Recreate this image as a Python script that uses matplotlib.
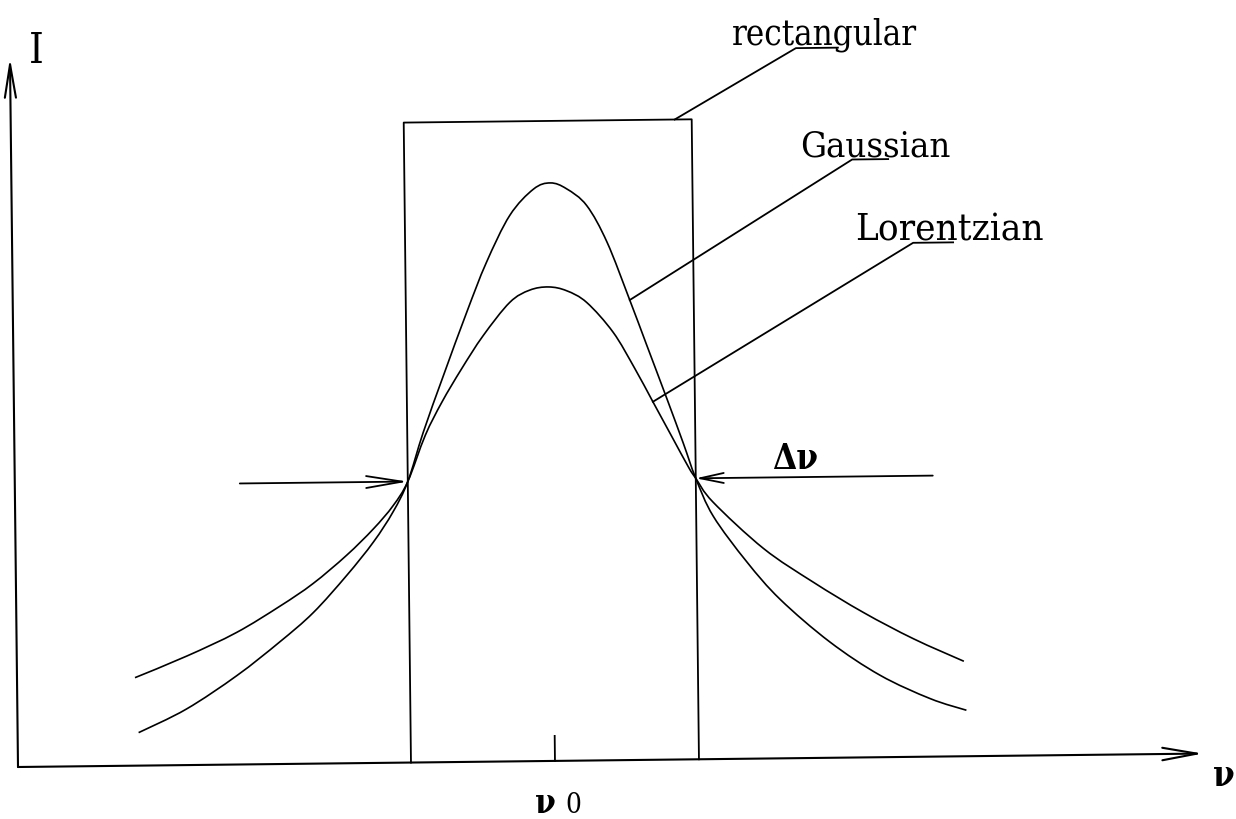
import matplotlib.pyplot as plt
from matplotlib.path import Path
from matplotlib.patches import PathPatch
from matplotlib.transforms import Affine2D

# line profiles: frequency offset from nu0 and intensity (arbitrary units)
rect_nu = [-144, -144, 144, 144]
rect_I = [0, 640, 640, 0]

gauss_nu = [-416, -368, -317, -274, -240, -206, -179, -159, -144,
            -128, -107, -83, -63, -39, -15, 2, 18, 38, 58, 80, 96, 116, 132,
            144, 161, 194, 227, 276, 326, 376, 412]
gauss_I = [33, 56, 89, 122, 151, 188, 221, 251, 281,
           330, 387, 450, 499, 546, 572, 578, 572, 555, 518, 460, 416, 361, 316,
           281, 243, 197, 159, 116, 82, 58, 46]

lor_nu = [-419, -367, -317, -273, -240, -206, -179, -159, -144,
          -126, -109, -89, -67, -40, -20, -1, 17, 37, 63, 84, 102, 120, 137,
          144, 161, 211, 260, 310, 360, 410]
lor_I = [88, 109, 132, 158, 180, 208, 234, 257, 281,
         327, 360, 393, 426, 459, 471, 474, 470, 458, 428, 392, 358, 324, 292,
         281, 257, 210, 176, 145, 118, 95]

half_I = 281           # where the profiles meet the rectangle edges
nu_axis = (-537, 648)  # extent of the frequency axis
I_axis = 709           # top of the intensity axis

fig = plt.figure(figsize=(12.36, 8.2), dpi=100)
ax = fig.add_axes([0, 0, 1, 1])
ax.set_autoscale_on(False)
ax.set_xlim(-555, 681)
ax.set_ylim(-52, 768)
ax.axis('off')

# the whole sketch sits slightly tilted on the page
rot = Affine2D().rotate_deg_around(nu_axis[0], 0, 0.65) + ax.transData


def smooth(xs, ys):
    # Catmull-Rom curve through the points, as cubic bezier pieces
    pts = list(zip(xs, ys))
    verts, codes = [pts[0]], [Path.MOVETO]
    n = len(pts)
    for i in range(n - 1):
        p0, p1 = pts[max(i - 1, 0)], pts[i]
        p2, p3 = pts[i + 1], pts[min(i + 2, n - 1)]
        c1 = (p1[0] + (p2[0] - p0[0]) / 6, p1[1] + (p2[1] - p0[1]) / 6)
        c2 = (p2[0] - (p3[0] - p1[0]) / 6, p2[1] - (p3[1] - p1[1]) / 6)
        verts += [c1, c2, p2]
        codes += [Path.CURVE4] * 3
    return Path(verts, codes)


lw = 1.3
ax.plot(rect_nu, rect_I, color='k', lw=lw, transform=rot)
for xs, ys in [(gauss_nu, gauss_I), (lor_nu, lor_I)]:
    ax.add_patch(PathPatch(smooth(xs, ys), fill=False, color='k', lw=1.2,
                           transform=rot))


def arrow(start, end, hl, hw, width=lw):
    ax.annotate('', xy=end, xytext=start, xycoords=rot, textcoords=rot,
                arrowprops=dict(arrowstyle=f'->,head_length={hl},head_width={hw}',
                                lw=width, color='k', shrinkA=0, shrinkB=0))


# axes
arrow((nu_axis[0], 0), (nu_axis[1], 0), 2.5, 0.45, 1.5)
arrow((nu_axis[0], 0), (nu_axis[0], I_axis), 2.4, 0.4, 1.5)
ax.plot([0, 0], [0, 25], color='k', lw=lw, transform=rot)

# width markers
arrow((-312, half_I), (rect_nu[0], half_I), 2.6, 0.43)
arrow((381, half_I), (rect_nu[-1], half_I), 1.7, 0.36)

# leader lines to the labels
ax.plot([127, 249, 291], [rect_I[1], 710, 710], color='k', lw=lw, transform=rot)
ax.plot([gauss_nu[19], 304, 340], [gauss_I[19], 598, 598], color='k', lw=lw, transform=rot)
ax.plot([lor_nu[20], 364, 404], [lor_I[20], 514, 514], color='k', lw=lw, transform=rot)

font = dict(family=['DejaVu Serif'], fontstretch='condensed', color='k',
            va='baseline', ha='left', transform=rot)
ax.text(185, 715, 'rectangular', fontsize=25, **font)
ax.text(252, 603, 'Gaussian', fontsize=26, **font)
ax.text(306, 518, 'Lorentzian', fontsize=27.5, **font)
ax.text(220, 290, 'Δν', fontsize=25, fontweight='bold', **font)
ax.text(658, -32, 'ν', fontsize=25, fontweight='bold', **font)
ax.text(-21, -51, 'ν', fontsize=24, fontweight='bold', **font)
ax.text(10, -51, '0', fontsize=20, **font)
ax.text(-518, 705, 'I', fontsize=30, **font)

fig.savefig('out.png', dpi=100)
